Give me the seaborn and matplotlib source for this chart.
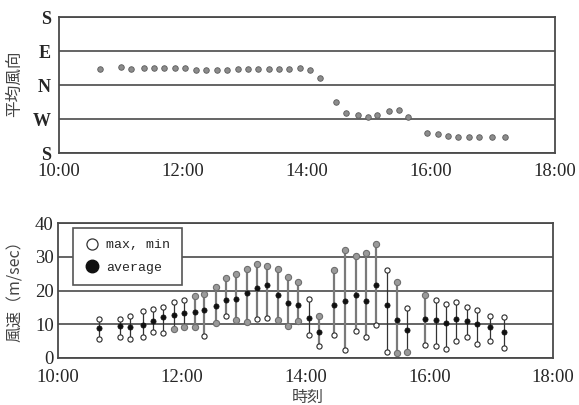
import matplotlib
matplotlib.use("Agg")
import matplotlib.pyplot as plt
from matplotlib.lines import Line2D
from matplotlib.ticker import MultipleLocator
import pandas as pd
import seaborn as sns

# Observation times (local)
times = ["10:40", "11:00", "11:10", "11:22", "11:32", "11:42", "11:52", "12:02",
         "12:13", "12:22", "12:33", "12:43", "12:53", "13:03", "13:13", "13:23",
         "13:33", "13:43", "13:53", "14:03", "14:13", "14:28", "14:38", "14:49",
         "14:59", "15:08", "15:19", "15:29", "15:38", "15:56", "16:07", "16:16",
         "16:26", "16:37", "16:46", "16:59", "17:12"]

# Mean wind direction, compass bearing in degrees (N=0, E=90, S=180, W=270)
wind_dir_deg = [43, 47, 43, 45, 46, 45, 45, 45, 40, 40, 41, 41, 43, 43, 43, 43,
                43, 43, 45, 41, 19, 315, 287, 281, 275, 280, 292, 294, 275,
                234, 231, 224, 223, 223, 223, 223, 223]

# Wind speed (m/sec)
speed_max = [11.5, 11.7, 12.4, 14.0, 14.5, 15.2, 16.6, 17.1, 18.5, 19.0, 21.0,
             23.6, 24.9, 26.5, 28.0, 27.4, 26.4, 24.0, 22.4, 17.5, 12.4, 26.1,
             31.9, 30.1, 31.2, 33.8, 26.1, 22.4, 14.8, 18.6, 17.1, 16.1, 16.7,
             15.2, 14.3, 12.5, 12.2]
speed_avg = [8.8, 9.5, 9.1, 9.8, 11.0, 12.2, 12.8, 13.2, 13.6, 14.1, 15.5, 17.3,
             17.5, 19.2, 20.7, 21.7, 18.6, 16.2, 15.6, 11.8, 7.6, 15.7, 16.8,
             18.6, 17.0, 21.5, 15.6, 11.4, 8.2, 11.5, 11.4, 10.4, 11.6, 11.1,
             10.2, 9.2, 7.7]
speed_min = [5.6, 6.3, 5.6, 6.1, 7.8, 7.5, 8.5, 9.3, 9.3, 6.5, 10.4, 12.4, 11.4,
             10.7, 11.7, 12.0, 11.2, 9.5, 11.0, 6.7, 3.5, 6.7, 2.3, 7.9, 6.1,
             9.9, 1.9, 1.4, 1.7, 3.9, 3.6, 2.7, 5.0, 6.1, 4.2, 5.1, 3.0]

dir_labels = ["S", "W", "N", "E", "S"]
hour_labels = ["10:00", "12:00", "14:00", "16:00", "18:00"]

# Readings printed with a grey (filled) max / min symbol
grey_max_idx = [8, 9, 10, 11, 12, 13, 14, 15, 16, 17, 18, 20, 21, 22, 23, 24, 25, 27, 29]
grey_min_idx = [6, 7, 8, 10, 12, 13, 16, 17, 18, 27, 28]

sns.set_style("white")
plt.rcParams["font.family"] = ["Liberation Serif", "DejaVu Serif"]

df = pd.DataFrame({
    "time": times,
    "dir": wind_dir_deg,
    "vmax": speed_max,
    "vavg": speed_avg,
    "vmin": speed_min,
})
hm = df["time"].str.split(":", expand=True).astype(int)
df["hour"] = hm[0] + hm[1] / 60.0
# Unwrap bearings so the axis runs S -> W -> N -> E -> S upward
df["dir_pos"] = df["dir"].where(df["dir"] >= 180, df["dir"] + 360)
df["grey_max"] = df.index.isin(grey_max_idx)
df["grey_min"] = df.index.isin(grey_min_idx)

fig = plt.figure(figsize=(5.79, 4.05), dpi=100)
ax1 = fig.add_axes([59 / 579, 1 - 153 / 405, (555 - 59) / 579, 136 / 405])
ax2 = fig.add_axes([58 / 579, 1 - 358 / 405, (553 - 58) / 579, 135 / 405])

spine_col = "#4a4a4a"
hour_ticks = [10, 12, 14, 16, 18]

for ax in (ax1, ax2):
    ax.set_xlim(10, 18)
    ax.set_xticks(hour_ticks)
    ax.set_xticklabels(hour_labels, fontsize=13.5)
    ax.xaxis.set_minor_locator(MultipleLocator(1))
    for s in ax.spines.values():
        s.set_color(spine_col)
        s.set_linewidth(1.3)
    ax.tick_params(which="both", direction="in", color=spine_col, width=0.8)
    ax.tick_params(which="major", length=3)
    ax.tick_params(which="minor", length=2)
    ax.grid(axis="y", color=spine_col, linewidth=1.2)
    ax.set_axisbelow(True)

# --- mean wind direction ---
dir_ticks = [180, 270, 360, 450, 540]
sns.scatterplot(data=df, x="hour", y="dir_pos", ax=ax1, color="#8c8c8c",
                edgecolor="#5a5a5a", linewidth=0.6, s=16, zorder=3, legend=False)
ax1.set_ylim(180, 540)
ax1.set_yticks(dir_ticks)
ax1.set_yticklabels(dir_labels, fontsize=13, fontweight="bold")
ax1.yaxis.set_minor_locator(MultipleLocator(30))
ax1.tick_params(axis="y", which="major", pad=6, length=0)
ax1.tick_params(axis="x", which="major", pad=7)
ax1.set_xlabel("")
ax1.set_ylabel("")

# --- wind speed ---
for grey, col, lw in ((False, "#333333", 0.9), (True, "#7a7a7a", 1.6)):
    sub = df[df["grey_max"] == grey]
    ax2.vlines(sub["hour"], sub["vmin"], sub["vmax"], colors=col,
               linewidth=lw, zorder=2)

for key, flag in (("vmax", "grey_max"), ("vmin", "grey_min")):
    sns.scatterplot(data=df[~df[flag]], x="hour", y=key, ax=ax2, color="white",
                    edgecolor="#2a2a2a", linewidth=0.8, s=14, zorder=4, legend=False)
    sns.scatterplot(data=df[df[flag]], x="hour", y=key, ax=ax2, color="#9a9a9a",
                    edgecolor="#6e6e6e", linewidth=0.8, s=20, zorder=4, legend=False)
sns.scatterplot(data=df, x="hour", y="vavg", ax=ax2, color="#111111",
                edgecolor="#111111", linewidth=0.5, s=14, zorder=5, legend=False)
ax2.set_xlim(10, 18)
ax2.set_ylim(0, 40)
ax2.set_yticks([0, 10, 20, 30, 40])
ax2.set_yticklabels(["0", "10", "20", "30", "40"], fontsize=13.5)
ax2.yaxis.set_minor_locator(MultipleLocator(5))
ax2.tick_params(axis="y", which="major", pad=3, length=0)
ax2.tick_params(axis="x", which="major", pad=8)
ax2.set_xlabel("")
ax2.set_ylabel("")

handles = [
    Line2D([], [], ls="", marker="o", ms=8, mfc="white", mec="#333333", mew=0.9),
    Line2D([], [], ls="", marker="o", ms=9, mfc="#111111", mec="#111111"),
]
leg = ax2.legend(handles, ["max, min", "average"], loc="upper left",
                 bbox_to_anchor=(0.03, 0.963), borderaxespad=0, frameon=True,
                 fancybox=False, framealpha=1, edgecolor="#555555",
                 prop={"family": "Liberation Mono", "size": 9.5},
                 handletextpad=0.5, labelspacing=0.75, borderpad=0.85,
                 handlelength=1.2)
leg.get_frame().set_linewidth(1.2)
leg.set_zorder(10)

cjk = ["Noto Sans CJK JP", "DejaVu Sans"]
fig.text(15 / 579, 1 - 84 / 405, "平均風向", rotation=90, ha="center", va="center",
         fontsize=12, family=cjk, color="#444444")
fig.text(15 / 579, 1 - 287 / 405, "風速（m/sec）", rotation=90, ha="center",
         va="center", fontsize=11.5, family=cjk, color="#444444")
fig.text(308 / 579, 1 - 389 / 405, "時刻", ha="center", va="top", fontsize=11.5,
         family=cjk, color="#444444")

fig.savefig("out.png", dpi=100)
